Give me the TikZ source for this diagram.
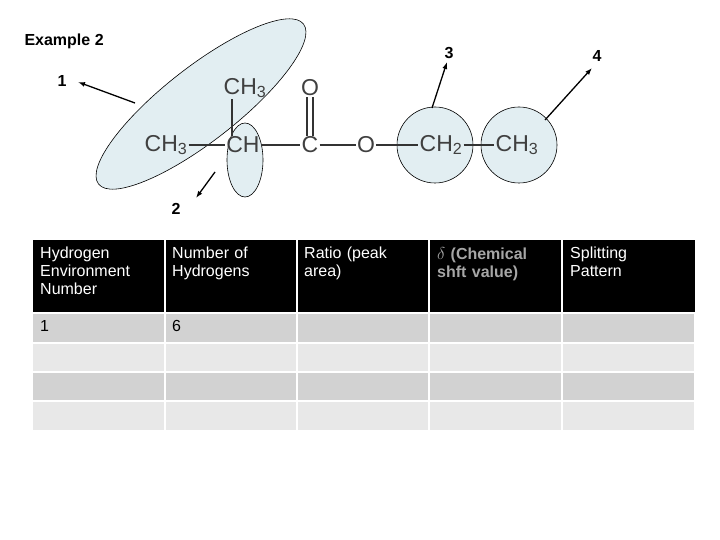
\documentclass[tikz,border=0pt]{standalone}
\usepackage{fontspec}
\setmainfont{Liberation Sans}
\usetikzlibrary{arrows.meta}
\definecolor{blobc}{RGB}{226,238,242}
\begin{document}
\begin{tikzpicture}[x=1pt,y=-1pt,
 mol/.style={font=\fontsize{23}{23}\selectfont, text=black!75, inner sep=1pt},
 blob/.style={draw=black, fill=blobc, line width=0.6pt},
 arr/.style={-{Latex[length=7pt,width=5pt]}, line width=1.3pt},
 lbl/.style={font=\bfseries\fontsize{16}{16}\selectfont},
 hd/.style={font=\fontsize{16}{18}\selectfont, text=white, align=left, anchor=north west, text width=125pt, inner sep=0pt},
 cell/.style={font=\fontsize{16}{18}\selectfont, anchor=north west, inner sep=0pt},
 bond/.style={line width=1.2pt, black!80}]
\useasboundingbox (0,0) rectangle (720,540);
\node[lbl, anchor=west] (ex) at (21,41) {Example 2};
% highlight shapes
\path[blob, rotate around={38:(201,104)}] (201,104) ellipse[x radius=130, y radius=37];
\path[blob] (245,160) ellipse[x radius=18, y radius=37];
\path[blob] (435,145) circle[radius=38];
\path[blob] (519,145) circle[radius=38];
% molecule
\node[mol] (m1) at (166,145) {CH\textsubscript{3}};
\node[mol] (m2) at (243,145) {CH};
\node[mol] (m3) at (310,145) {C};
\node[mol] (m4) at (366,145) {O};
\node[mol] (m5) at (441,145) {CH\textsubscript{2}};
\node[mol] (m6) at (517,145) {CH\textsubscript{3}};
\node[mol] (m7) at (245,88) {CH\textsubscript{3}};
\node[mol] (m8) at (310,88) {O};
\draw[bond] (m1) -- (m2);
\draw[bond] (m2) -- (m3);
\draw[bond] (m3) -- (m4);
\draw[bond] (m4) -- (m5);
\draw[bond] (m5) -- (m6);
\draw[bond] ([xshift=-11pt]m2.north) -- ([xshift=-13pt]m7.south);
\draw[bond] ([xshift=-3pt]m3.north) -- ([xshift=-3pt]m8.south);
\draw[bond] ([xshift=3pt]m3.north) -- ([xshift=3pt]m8.south);
% labels and arrows
\node[lbl] (l1) at (62,81) {1};
\node[lbl] (l2) at (176,209) {2};
\node[lbl] (l3) at (449,53) {3};
\node[lbl] (l4) at (597,56) {4};
\coordinate (a1) at (135,103);
\coordinate (a2) at (215,172);
\coordinate (a3) at (432,108);
\coordinate (a4) at (545,120);
\draw[arr] (a1) -- (78,82);
\draw[arr] (a2) -- (196,198);
\draw[arr] (a3) -- (447,62);
\draw[arr] (a4) -- (592,68);
% table
\fill[black] (33,240) rectangle (695,313);
\foreach \y/\c in {313/gray!35,343/gray!18,372/gray!35,401/gray!18}{
  \foreach \x in {33,165,297,429,562}{
    \fill[\c] (\x,\y) rectangle ++(132,29);
  }
}
\foreach \x in {165,297,429,562}{\draw[white,line width=1.5pt] (\x,240) -- (\x,430);}
\foreach \y in {313,343,372,401}{\draw[white,line width=1.5pt] (33,\y) -- (695,\y);}
\node[hd] (h1) at (40,247) {Hydrogen\\Environment\\Number};
\node[hd] (h2) at (172,247) {Number of\\Hydrogens};
\node[hd] (h3) at (304,247) {Ratio (peak\\area)};
\node[hd, text=gray!70, font=\bfseries\fontsize{16}{18}\selectfont] (h4) at (437,247) {$\delta$ (Chemical\\shft value)};
\node[hd] (h5) at (570,247) {Splitting\\Pattern};
\node[cell] (c1) at (40,320) {1};
\node[cell] (c2) at (172,320) {6};
\end{tikzpicture}
\end{document}
